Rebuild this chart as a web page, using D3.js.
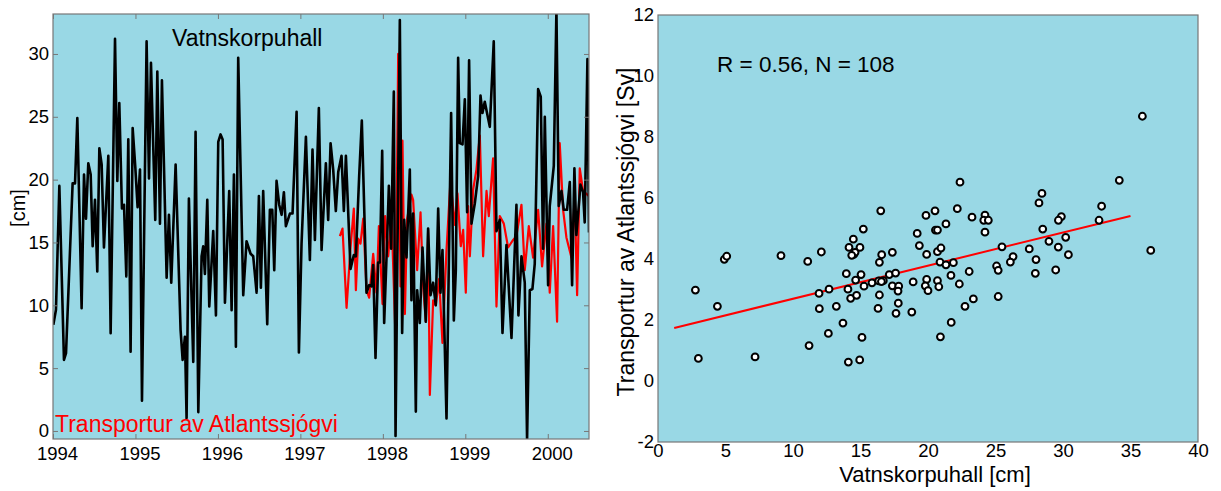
<!DOCTYPE html>
<html>
<head>
<meta charset="utf-8">
<script src="https://cdn.jsdelivr.net/npm/d3@7"></script>
<style>
  body { margin: 0; background: #fff; }
  svg { display: block; font-family: "Liberation Sans", Arial, Helvetica, sans-serif; }
</style>
</head>
<body>
<script>
// ---- data ----
var vatnYear = [1994.004, 1994.036, 1994.077, 1994.133, 1994.158, 1994.238, 1994.267, 1994.295, 1994.347, 1994.376,
  1994.400, 1994.428, 1994.457, 1994.481, 1994.509, 1994.537, 1994.562, 1994.590, 1994.618, 1994.671,
  1994.699, 1994.752, 1994.780, 1994.804, 1994.836, 1994.861, 1994.889, 1994.913, 1994.941, 1994.966,
  1994.998, 1995.026, 1995.055, 1995.079, 1995.135, 1995.164, 1995.188, 1995.240, 1995.265, 1995.297,
  1995.321, 1995.378, 1995.406, 1995.434, 1995.487, 1995.547, 1995.572, 1995.600, 1995.620, 1995.648,
  1995.701, 1995.729, 1995.762, 1995.802, 1995.822, 1995.842, 1995.871, 1995.895, 1995.943, 1995.976,
  1996.004, 1996.032, 1996.057, 1996.085, 1996.137, 1996.166, 1996.194,
  1996.218, 1996.246, 1996.307, 1996.347, 1996.396, 1996.428, 1996.469, 1996.497, 1996.521, 1996.549,
  1996.598, 1996.630, 1996.659, 1996.683, 1996.711, 1996.743, 1996.772, 1996.800, 1996.824, 1996.873,
  1996.905, 1996.954, 1996.982, 1997.014, 1997.067, 1997.115, 1997.147, 1997.176, 1997.224, 1997.257,
  1997.309, 1997.337, 1997.366, 1997.398, 1997.430, 1997.459, 1997.499, 1997.527, 1997.552, 1997.608,
  1997.648, 1997.673, 1997.713, 1997.745, 1997.802, 1997.834, 1997.863, 1997.883, 1997.911, 1997.943,
  1997.964, 1997.992, 1998.016, 1998.052, 1998.073, 1998.101, 1998.133, 1998.154, 1998.206, 1998.234,
  1998.259, 1998.287, 1998.327,
  1998.347, 1998.367, 1998.400, 1998.416, 1998.448, 1998.481, 1998.521, 1998.549, 1998.578, 1998.610,
  1998.642, 1998.671, 1998.699, 1998.723, 1998.772, 1998.828, 1998.861, 1998.885, 1998.913, 1998.933,
  1998.966, 1998.994, 1999.022, 1999.046, 1999.075, 1999.115, 1999.156, 1999.184, 1999.208, 1999.236,
  1999.297, 1999.345, 1999.378, 1999.418, 1999.451, 1999.499, 1999.560, 1999.620, 1999.644, 1999.681,
  1999.721, 1999.749, 1999.782, 1999.814, 1999.842, 1999.883, 1999.915, 1999.943, 1999.964, 2000.004,
  2000.024, 2000.073, 2000.105, 2000.133, 2000.166, 2000.194, 2000.234, 2000.267, 2000.295, 2000.323,
  2000.347, 2000.376, 2000.396, 2000.428, 2000.448, 2000.481, 2000.500];
var vatnCm = [8.45, 9.64, 19.5, 5.66, 6.2, 19.7, 19.7, 24.9, 9.77, 20.4,
  16.9, 21.3, 20.4, 14.7, 18.4, 12.7, 22.5, 21.2, 14.6, 21.9,
  7.78, 31.2, 19.9, 26.1, 17.7, 18.0, 12.3, 23.2, 6.3, 24.1,
  21.0, 17.8, 20.8, 2.4, 31.0, 20.1, 29.3, 16.8, 28.6, 16.5,
  27.9, 12.2, 17.2, 11.8, 21.2, 8.05, 5.66, 7.5, 1.0, 18.5,
  5.5, 23.8, 1.5, 13.9, 14.7, 12.5, 18.4, 9.9, 15.9, 9.2,
  23.0, 23.6, 23.2, 10.2, 19.1, 9.6, 20.4,
  6.7, 29.7, 10.8, 15.1, 14.1, 13.9, 11.0, 18.7, 11.4, 19.1,
  8.5, 17.6, 17.6, 12.8, 19.9, 18.0, 17.2, 19.0, 16.3, 17.3,
  17.3, 25.4, 6.24, 14.9, 23.4, 13.6, 22.4, 15.2, 25.7, 14.4,
  21.3, 16.8, 22.9, 20.8, 17.5, 20.6, 21.9, 17.5, 21.9, 12.9,
  14.0, 13.9, 20.3, 24.7, 11.0, 11.6, 11.5, 13.2, 5.8, 13.4,
  13.4, 22.3, 8.6, 15.2, 19.5, 14.5, 27.0, -0.4, 32.7, 7.8,
  16.8, 13.8, 20.8,
  10.4, 17.3, 1.54, 11.2, 8.6, 14.6, 8.7, 16.1, 10.8, 11.8,
  10.0, 17.7, 11.0, 14.4, 1.0, 25.3, 8.8, 12.8, 29.7, 22.9,
  22.8, 26.4, 17.4, 29.5, 16.5, 18.1, 20.3, 26.7, 25.3, 26.2,
  24.2, 31.0, 15.9, 16.8, 7.8, 14.8, 7.4, 18.0, 9.2, 13.9,
  11.8, -0.7, 11.2, 11.3, 13.3, 27.2, 26.6, 14.5, 25.0, 11.6,
  17.9, 21.1, 33.5, 17.9, 19.1, 17.6, 17.6, 19.8, 11.6, 20.9,
  15.6, 17.9, 19.6, 19.0, 16.6, 29.6, 15.8];

var transYear = [1997.479, 1997.511, 1997.560, 1997.608, 1997.648, 1997.673, 1997.701, 1997.729, 1997.762, 1997.802,
  1997.834, 1997.883, 1997.923, 1997.952, 1997.996, 1998.028, 1998.065, 1998.105, 1998.154, 1998.186,
  1998.214, 1998.238, 1998.267, 1998.295, 1998.347,
  1998.367, 1998.416, 1998.457, 1998.489, 1998.521, 1998.549, 1998.570, 1998.610, 1998.642, 1998.683,
  1998.723, 1998.772, 1998.820, 1998.873, 1998.905, 1998.945, 1998.974, 1999.006, 1999.034, 1999.055,
  1999.095, 1999.135, 1999.176, 1999.216, 1999.257, 1999.285, 1999.337, 1999.378, 1999.418, 1999.467,
  1999.519, 1999.580, 1999.620, 1999.681, 1999.721, 1999.770, 1999.822, 1999.883, 1999.931, 1999.984,
  2000.024, 2000.065, 2000.113, 2000.145, 2000.186, 2000.226, 2000.287, 2000.327, 2000.356, 2000.388,
  2000.428, 2000.497];
var transCm = [15.5, 16.1, 9.8, 14.6, 17.7, 11.2, 15.3, 14.9, 16.9, 11.2,
  10.6, 14.1, 11.0, 16.3, 10.1, 17.1, 13.9, 17.2, 7.4, 30.0,
  11.5, 23.1, 9.3, 16.9, 18.8,
  18.4, 12.8, 17.4, 11.5, 8.7, 16.0, 2.87, 10.4, 10.0, 12.1,
  7.0, 14.4, 19.9, 16.4, 18.9, 14.7, 16.0, 11.0, 17.9, 13.9,
  19.2, 20.8, 23.5, 13.9, 19.1, 17.1, 21.7, 9.9, 17.1, 16.5,
  14.6, 15.2, 15.5, 18.0, 12.8, 16.3, 13.8, 17.6, 13.1, 16.5,
  11.0, 16.3, 8.7, 22.9, 17.6, 15.4, 13.8, 18.7, 10.8, 20.9,
  19.1, 18.7];

// scatter: Vatnskorpuhall [cm] vs transport [Sv]
var scatterCm = [2.77, 2.99, 4.4, 4.91, 5.09, 7.19, 9.11, 11.09, 11.19, 12.1,
  11.93, 11.95, 12.67, 12.62, 13.21, 13.7, 13.95, 14.1, 14.15, 14.07,
  14.27, 14.64, 14.71, 14.5, 14.6, 14.96, 15.04, 15.26, 14.94, 15.11,
  15.85, 16.4, 16.57, 16.35, 16.69, 16.4, 16.3, 17.13, 17.36, 17.6,
  17.36, 17.83, 17.78, 17.8, 17.63, 18.9, 18.8, 19.36, 16.5, 15.21,
  14.47, 19.2, 22.37, 20.52, 19.85, 22.17, 23.26, 24.22, 24.13, 24.47,
  24.22, 20.55, 20.7, 21.33, 19.9, 20.7, 20.96, 20.89, 21.33, 21.88,
  25.48, 27.5, 26.3, 26.1, 25.08, 25.2, 28.0, 27.95, 23.05, 21.7,
  22.32, 19.9, 19.8, 20.0, 20.7, 20.8, 22.74, 23.36, 25.2, 21.72,
  20.92, 35.88, 34.17, 28.44, 28.22, 32.86, 32.67, 29.88, 29.66, 28.5,
  30.2, 28.96, 29.65, 36.5, 30.4, 29.46, 14.35, 16.55];
var scatterSv = [2.98, 0.74, 2.45, 3.99, 4.09, 0.79, 4.11, 3.92, 1.16, 4.23,
  2.87, 2.37, 3.01, 1.56, 2.45, 1.9, 3.52, 0.62, 4.38, 3.01,
  2.71, 3.31, 2.81, 4.15, 4.22, 4.38, 3.49, 3.11, 0.69, 1.43,
  3.22, 3.89, 4.14, 3.28, 3.29, 2.82, 2.38, 3.49, 4.22, 3.54,
  3.12, 3.11, 2.95, 2.55, 2.22, 3.25, 2.26, 4.44, 5.58, 4.98,
  4.65, 4.84, 6.52, 5.58, 5.43, 5.65, 5.37, 5.44, 5.27, 5.27,
  4.88, 4.95, 4.95, 5.15, 4.15, 4.24, 4.36, 3.9, 3.81, 3.88,
  4.4, 4.33, 4.08, 3.9, 3.77, 3.63, 3.98, 3.53, 3.59, 3.46,
  3.18, 3.33, 3.12, 2.96, 3.29, 3.09, 2.45, 2.69, 2.77, 1.92,
  1.45, 8.68, 6.58, 6.15, 5.84, 5.73, 5.27, 5.39, 5.27, 4.98,
  4.71, 4.58, 4.39, 4.28, 4.14, 3.64, 4.12, 3.26];

// fitted line (end points)
var fitCm = [1.2, 35.0];
var fitSv = [1.74, 5.41];

var yearTicks = [1994, 1995, 1996, 1997, 1998, 1999, 2000];
var cmTicks = [0, 5, 10, 15, 20, 25, 30];
var scatXTicks = [0, 5, 10, 15, 20, 25, 30, 35, 40];
var scatYTicks = [-2, 0, 2, 4, 6, 8, 10, 12];

var bg = "#99d8e5";
var boxColor = "#777";

var svg = d3.select("body").append("svg")
  .attr("width", 1221)
  .attr("height", 491);

// ===== left panel: time series =====
var x1 = d3.scaleLinear().domain([1994, 2000.5]).range([53, 589]);
var y1 = d3.scaleLinear().domain([-0.64, 33.18]).range([439, 14]);

svg.append("clipPath").attr("id", "clip1")
  .append("rect")
  .attr("x", 53).attr("y", 14).attr("width", 536).attr("height", 425);

svg.append("rect")
  .attr("x", 53).attr("y", 14).attr("width", 536).attr("height", 425)
  .attr("fill", bg);

var line1 = d3.line()
  .x(function(d) { return x1(d[0]); })
  .y(function(d) { return y1(d[1]); });

var g1 = svg.append("g").attr("clip-path", "url(#clip1)");

g1.append("path")
  .datum(d3.zip(transYear, transCm))
  .attr("d", line1)
  .attr("fill", "none")
  .attr("stroke", "#ff0000")
  .attr("stroke-width", 2.2)
  .attr("stroke-linejoin", "round");

g1.append("path")
  .datum(d3.zip(vatnYear, vatnCm))
  .attr("d", line1)
  .attr("fill", "none")
  .attr("stroke", "#000")
  .attr("stroke-width", 2.6)
  .attr("stroke-linejoin", "round");

function styleAxis(g) {
  g.select(".domain").remove();
  g.selectAll(".tick line").attr("stroke", boxColor);
  g.selectAll(".tick text").attr("fill", "#000").attr("font-size", "18.5px");
}

var plain = function(d) { return String(d); };

svg.append("g").attr("transform", "translate(0,439)")
  .call(d3.axisBottom(x1).tickValues(yearTicks).tickFormat(plain).tickSize(-5).tickPadding(8))
  .call(styleAxis)
  .selectAll(".tick text").attr("dx", 4);

svg.append("g").attr("transform", "translate(0,14)")
  .call(d3.axisTop(x1).tickValues(yearTicks).tickFormat("").tickSize(-5))
  .call(styleAxis);

svg.append("g").attr("transform", "translate(53,0)")
  .call(d3.axisLeft(y1).tickValues(cmTicks).tickFormat(plain).tickSize(-5).tickPadding(4))
  .call(styleAxis);

svg.append("g").attr("transform", "translate(589,0)")
  .call(d3.axisRight(y1).tickValues(cmTicks).tickFormat("").tickSize(-5))
  .call(styleAxis);

svg.append("rect")
  .attr("x", 53).attr("y", 14).attr("width", 536).attr("height", 425)
  .attr("fill", "none").attr("stroke", boxColor).attr("stroke-width", 1.2);

svg.append("text")
  .attr("x", 172).attr("y", 46)
  .attr("font-size", "23px").attr("fill", "#000")
  .text("Vatnskorpuhall");

svg.append("text")
  .attr("x", 55).attr("y", 432)
  .attr("font-size", "23px").attr("fill", "#ff0000")
  .text("Transportur av Atlantssjógvi");

svg.append("text")
  .attr("transform", "translate(25,208) rotate(-90)")
  .attr("text-anchor", "middle")
  .attr("font-size", "20px").attr("fill", "#000")
  .text("[cm]");

// ===== right panel: scatter =====
var x2 = d3.scaleLinear().domain([0, 40]).range([658, 1198]);
var y2 = d3.scaleLinear().domain([-2, 12]).range([442, 15]);

svg.append("rect")
  .attr("x", 658).attr("y", 15).attr("width", 540).attr("height", 427)
  .attr("fill", bg)
  .attr("stroke", boxColor).attr("stroke-width", 1.2);

svg.append("g").attr("transform", "translate(0,442)")
  .call(d3.axisBottom(x2).tickValues(scatXTicks).tickFormat(plain).tickSize(0).tickPadding(2))
  .call(styleAxis);

svg.append("g").attr("transform", "translate(658,0)")
  .call(d3.axisLeft(y2).tickValues(scatYTicks).tickFormat(plain).tickSize(0).tickPadding(4))
  .call(styleAxis);

svg.append("path")
  .datum(d3.zip(fitCm, fitSv))
  .attr("d", d3.line()
    .x(function(d) { return x2(d[0]); })
    .y(function(d) { return y2(d[1]); }))
  .attr("fill", "none")
  .attr("stroke", "#ff0000")
  .attr("stroke-width", 2);

svg.append("g").selectAll("circle")
  .data(d3.zip(scatterCm, scatterSv))
  .enter()
  .append("circle")
  .attr("cx", function(d) { return x2(d[0]); })
  .attr("cy", function(d) { return y2(d[1]); })
  .attr("r", 3.4)
  .attr("fill", "#fff")
  .attr("stroke", "#000")
  .attr("stroke-width", 2);

svg.append("text")
  .attr("x", 717).attr("y", 72)
  .attr("font-size", "22.5px").attr("fill", "#000")
  .text("R = 0.56, N = 108");

svg.append("text")
  .attr("x", 935).attr("y", 482)
  .attr("text-anchor", "middle")
  .attr("font-size", "22px").attr("fill", "#000")
  .text("Vatnskorpuhall [cm]");

svg.append("text")
  .attr("transform", "translate(634,232) rotate(-90)")
  .attr("text-anchor", "middle")
  .attr("font-size", "23px").attr("fill", "#000")
  .text("Transportur av Atlantssjógvi [Sv]");
</script>
</body>
</html>
